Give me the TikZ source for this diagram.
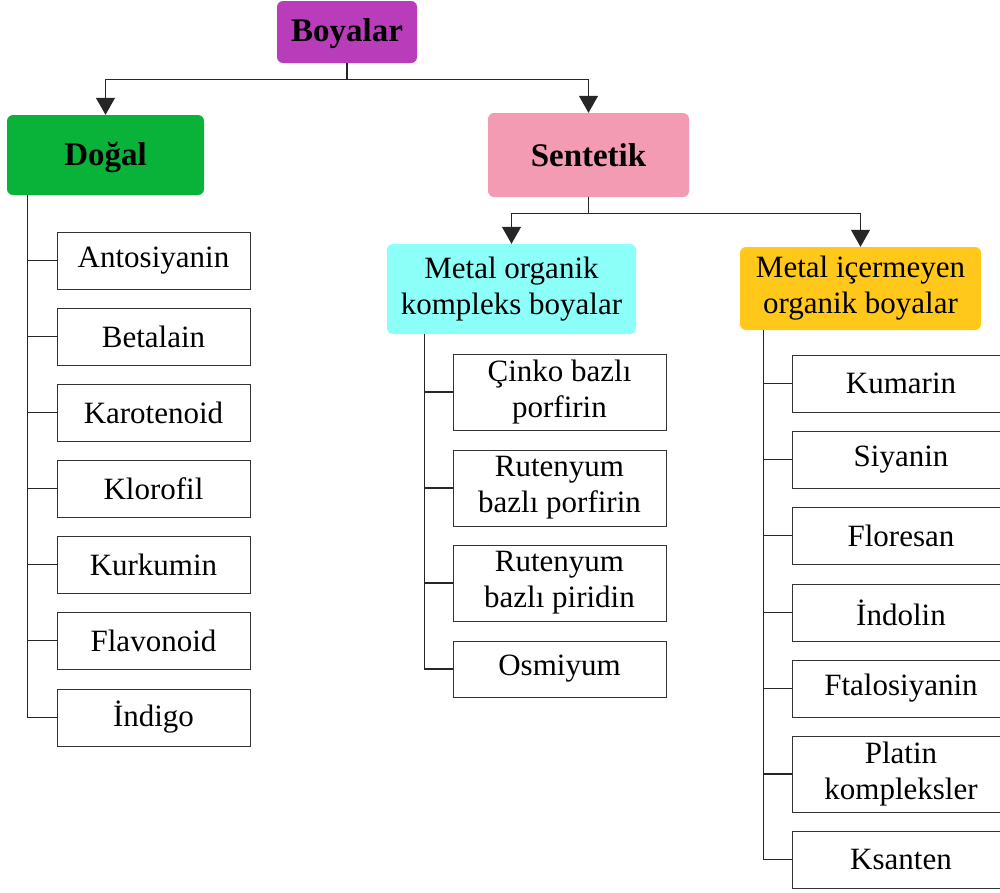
\documentclass[tikz,border=0pt]{standalone}
\usepackage{fontspec}
\setmainfont{Liberation Serif}
\usetikzlibrary{positioning,arrows.meta}
\tikzstyle{head} = [rectangle, rounded corners=6pt, text centered, align=center, inner sep=0pt, font=\fontsize{33}{38}\selectfont\bfseries]
\tikzstyle{group} = [rectangle, rounded corners=6pt, text centered, align=center, inner sep=0pt, font=\fontsize{31}{36}\selectfont]
\tikzstyle{item} = [rectangle, draw=black!80, line width=1pt, text centered, align=center, inner sep=0pt, font=\fontsize{31}{36}\selectfont]
\tikzstyle{arrow} = [-{Triangle[width=19pt,length=17pt]}, draw=black!85, line width=1.2pt]
\tikzstyle{line} = [draw=black!85, line width=1.2pt]
\definecolor{boyamor}{HTML}{B93CBB}
\definecolor{boyayesil}{HTML}{09B33A}
\definecolor{boyapembe}{HTML}{F29BB3}
\definecolor{boyacamgobegi}{HTML}{8CFFF9}
\definecolor{boyasari}{HTML}{FFC81B}

\begin{document}
\begin{tikzpicture}[x=1pt,y=-1pt]
		\clip (0,0) rectangle (1000,892);
		\node (boyalar) [head,fill=boyamor,minimum width=140pt,minimum height=62pt,text depth=3pt] at (347,32) {Boyalar};
		\node (dogal) [head,fill=boyayesil,minimum width=197pt,minimum height=80pt,text depth=3pt] at (105.5,155) {Doğal};
		\node (sentetik) [head,fill=boyapembe,minimum width=201pt,minimum height=84pt] at (588.5,155) {Sentetik};
		\node (metalorg) [group,fill=boyacamgobegi,minimum width=249pt,minimum height=90pt] at (511.5,289) {Metal organik\\kompleks boyalar};
		\node (metalsiz) [group,fill=boyasari,minimum width=241pt,minimum height=83pt] at (860.5,288.5) {Metal içermeyen\\organik boyalar};
		
		% dogal boyalar
		\node (antosiyanin) [item,minimum width=193pt,minimum height=57pt] at (153.5,260.5) {Antosiyanin};
		\node (betalain) [item,minimum width=193pt,minimum height=57pt,below=18pt of antosiyanin] {Betalain};
		\node (karotenoid) [item,minimum width=193pt,minimum height=57pt,below=18pt of betalain] {Karotenoid};
		\node (klorofil) [item,minimum width=193pt,minimum height=57pt,below=18pt of karotenoid] {Klorofil};
		\node (kurkumin) [item,minimum width=193pt,minimum height=57pt,below=18pt of klorofil] {Kurkumin};
		\node (flavonoid) [item,minimum width=193pt,minimum height=57pt,below=18pt of kurkumin] {Flavonoid};
		\node (indigo) [item,minimum width=193pt,minimum height=57pt,below=19pt of flavonoid] {İndigo};
		
		% metal organik kompleks boyalar
		\node (cinko) [item,minimum width=213pt,minimum height=76pt] at (559.5,392) {Çinko bazlı\\porfirin};
		\node (rutporf) [item,minimum width=213pt,minimum height=76pt,below=19pt of cinko] {Rutenyum\\bazlı porfirin};
		\node (rutpir) [item,minimum width=213pt,minimum height=76pt,below=18pt of rutporf] {Rutenyum\\bazlı piridin};
		\node (osmiyum) [item,minimum width=213pt,minimum height=56pt,below=19pt of rutpir] {Osmiyum};
		
		% metal icermeyen organik boyalar
		\node (kumarin) [item,minimum width=218pt,minimum height=57pt] at (901,383.5) {Kumarin};
		\node (siyanin) [item,minimum width=218pt,minimum height=57pt,below=18pt of kumarin] {Siyanin};
		\node (floresan) [item,minimum width=218pt,minimum height=57pt,below=18pt of siyanin] {Floresan};
		\node (indolin) [item,minimum width=218pt,minimum height=57pt,below=19pt of floresan] {İndolin};
		\node (ftalosiyanin) [item,minimum width=218pt,minimum height=57pt,below=18pt of indolin] {Ftalosiyanin};
		\node (platin) [item,minimum width=218pt,minimum height=76pt,below=18pt of ftalosiyanin] {Platin\\kompleksler};
		\node (ksanten) [item,minimum width=218pt,minimum height=57pt,below=18pt of platin] {Ksanten};
		
		\draw [arrow] (boyalar.south) -- ++(0,16) -| (dogal.north);
		\draw [arrow] (boyalar.south) -- ++(0,16) -| (sentetik.north);
		\draw [arrow] (sentetik.south) -- ++(0,16) -| (metalorg.north);
		\draw [arrow] (sentetik.south) -- ++(0,16) -| (metalsiz.north);
		
		\foreach \n in {antosiyanin,betalain,karotenoid,klorofil,kurkumin,flavonoid,indigo}
			\draw [line] ([xshift=21pt]dogal.south west) |- (\n.west);
		\foreach \n in {cinko,rutporf,rutpir,osmiyum}
			\draw [line] ([xshift=38pt]metalorg.south west) |- (\n.west);
		\foreach \n in {kumarin,siyanin,floresan,indolin,ftalosiyanin,platin,ksanten}
			\draw [line] ([xshift=24pt]metalsiz.south west) |- (\n.west);
	
	\end{tikzpicture}
\end{document}
